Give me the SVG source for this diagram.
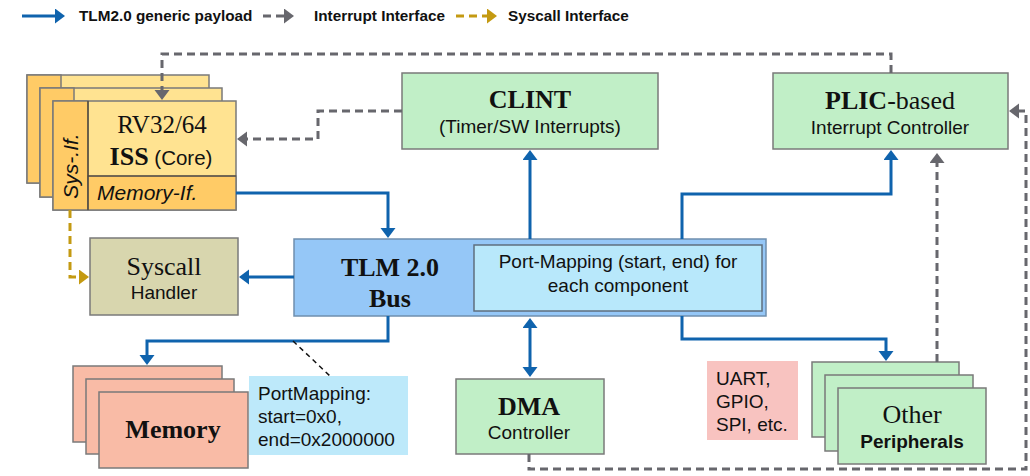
<svg xmlns="http://www.w3.org/2000/svg" width="1030" height="476" viewBox="0 0 1030 476">
<style>
.box{stroke:#7a7a7a;stroke-width:1.5}
.green{fill:#C1EFC7}
.serif{font-family:"Liberation Serif","Times New Roman",serif;fill:#111}
.sans{font-family:"Liberation Sans",Arial,sans-serif;fill:#111}
.b{font-weight:bold}
.blue{fill:none;stroke:#0F63AD;stroke-width:3}
.gray{fill:none;stroke:#67676D;stroke-width:3;stroke-dasharray:8,5}
.gold{fill:none;stroke:#C49A12;stroke-width:3;stroke-dasharray:8,5}
.leg{font-family:"Liberation Sans",Arial,sans-serif;font-weight:bold;font-size:15.3px;fill:#111}
</style>
<defs>
<marker id="ab" markerUnits="userSpaceOnUse" markerWidth="12" markerHeight="16" refX="1" refY="7.5" orient="auto-start-reverse"><path d="M0,0 L10,7.5 L0,15 z" fill="#0F63AD"/></marker>
<marker id="ag" markerUnits="userSpaceOnUse" markerWidth="12" markerHeight="16" refX="1" refY="7.5" orient="auto"><path d="M0,0 L10,7.5 L0,15 z" fill="#67676D"/></marker>
<marker id="ay" markerUnits="userSpaceOnUse" markerWidth="12" markerHeight="16" refX="1" refY="7.5" orient="auto"><path d="M0,0 L10,7.5 L0,15 z" fill="#C49A12"/></marker>
</defs>

<g id="legend">
<path class="blue" d="M22,16 H56" marker-end="url(#ab)"/>
<text class="leg" x="79" y="21">TLM2.0 generic payload</text>
<path class="gray" d="M263,16 H285" marker-end="url(#ag)"/>
<text class="leg" x="314" y="21">Interrupt Interface</text>
<path class="gold" d="M456,16 H488" marker-end="url(#ay)"/>
<text class="leg" x="508" y="21">Syscall Interface</text>
</g>

<g id="core">
<rect x="27" y="75" width="182" height="108" fill="#FFE391" class="box"/>
<rect x="27" y="75" width="34" height="108" fill="#FFCB66" class="box"/>
<rect x="40" y="88" width="182" height="109" fill="#FFE391" class="box"/>
<rect x="40" y="88" width="34" height="109" fill="#FFCB66" class="box"/>
<rect x="53" y="101" width="183" height="109" fill="#FFE391" class="box"/>
<rect x="53" y="101" width="35" height="109" fill="#FFCB66" class="box"/>
<rect x="88" y="176" width="148" height="34" fill="#FFCB66" class="box"/>
<line x1="88" y1="101" x2="88" y2="210" stroke="#4a3f2a" stroke-width="1.2"/>
<line x1="88" y1="176" x2="236" y2="176" stroke="#4a3f2a" stroke-width="1.2"/>
<text class="serif" x="162" y="133" font-size="25" text-anchor="middle">RV32/64</text>
<text x="161" y="165" text-anchor="middle"><tspan class="serif b" font-size="26">ISS</tspan><tspan class="sans" font-size="20.5"> (Core)</tspan></text>
<text class="sans" x="97" y="200" font-size="21" font-style="italic">Memory-If.</text>
<text class="sans" font-size="21" font-style="italic" text-anchor="middle" transform="translate(78,166) rotate(-90)">Sys-.If.</text>
</g>

<g id="clint">
<rect x="402" y="73" width="256" height="76" class="box green"/>
<text class="serif b" x="530" y="108" font-size="26" text-anchor="middle">CLINT</text>
<text class="sans" x="530" y="133" font-size="19" text-anchor="middle">(Timer/SW Interrupts)</text>
</g>

<g id="plic">
<rect x="773" y="73" width="235" height="76" class="box green"/>
<text class="serif" x="890" y="109" font-size="26" text-anchor="middle"><tspan class="b">PLIC</tspan>-based</text>
<text class="sans" x="890" y="134" font-size="19" text-anchor="middle">Interrupt Controller</text>
</g>

<g id="syscall">
<rect x="90" y="238" width="148" height="77" fill="#D8D6AE" class="box"/>
<text class="serif" x="164" y="275" font-size="26" text-anchor="middle">Syscall</text>
<text class="sans" x="164" y="299" font-size="19" text-anchor="middle">Handler</text>
</g>

<g id="bus">
<rect x="294" y="239" width="472" height="77" fill="#95C7F7" stroke="#6f8fae" stroke-width="1.5"/>
<text class="serif b" x="390" y="276" font-size="26" text-anchor="middle">TLM 2.0</text>
<text class="serif b" x="390" y="307" font-size="26" text-anchor="middle">Bus</text>
<g id="portmap">
<rect x="474" y="245" width="288" height="66" fill="#B8E8FB" stroke="#5f6f7f" stroke-width="1.5"/>
<text class="sans" x="618" y="268" font-size="19" text-anchor="middle">Port-Mapping (start, end) for</text>
<text class="sans" x="618" y="292" font-size="19" text-anchor="middle">each component</text>
</g>
</g>

<g id="memory">
<rect x="73" y="366" width="149" height="76" fill="#F9BBA6" class="box"/>
<rect x="86" y="379" width="148" height="75" fill="#F9BBA6" class="box"/>
<rect x="99" y="392" width="149" height="76" fill="#F9BBA6" class="box"/>
<text class="serif b" x="173" y="438" font-size="26" text-anchor="middle">Memory</text>
</g>

<g id="memnote">
<rect x="249" y="376" width="159" height="79" fill="#BDE9FA"/>
<text class="sans" x="258" y="400" font-size="19">PortMapping:</text>
<text class="sans" x="258" y="423" font-size="19">start=0x0,</text>
<text class="sans" x="258" y="446" font-size="19">end=0x2000000</text>
</g>

<g id="dma">
<rect x="456" y="379" width="148" height="75" class="box green"/>
<text class="serif b" x="529" y="415" font-size="26" text-anchor="middle">DMA</text>
<text class="sans" x="529" y="439" font-size="19" text-anchor="middle">Controller</text>
</g>

<g id="uartnote">
<rect x="707" y="361" width="91" height="79" fill="#F8C3C0"/>
<text class="sans" x="716" y="385" font-size="19">UART,</text>
<text class="sans" x="716" y="408" font-size="19">GPIO,</text>
<text class="sans" x="716" y="431" font-size="19">SPI, etc.</text>
</g>

<g id="peripherals">
<rect x="812" y="362" width="147" height="75" class="box green"/>
<rect x="825" y="375" width="148" height="76" class="box green"/>
<rect x="838" y="388" width="148" height="76" class="box green"/>
<text class="serif" x="912" y="423" font-size="26" text-anchor="middle">Other</text>
<text class="sans b" x="912" y="448" font-size="19" text-anchor="middle">Peripherals</text>
</g>

<g id="connectors">
<path class="blue" d="M236,193 H388 V229" marker-end="url(#ab)"/>
<path class="blue" d="M294,277 H248" marker-end="url(#ab)"/>
<path class="blue" d="M530,239 V159" marker-end="url(#ab)"/>
<path class="blue" d="M682,239 V194 H891 V159" marker-end="url(#ab)"/>
<path class="blue" d="M388,316 V341 H147 V356" marker-end="url(#ab)"/>
<path class="blue" d="M530,327 V368" marker-start="url(#ab)" marker-end="url(#ab)"/>
<path class="blue" d="M682,316 V339 H886 V352" marker-end="url(#ab)"/>
<path class="gray" d="M891,73 V54 H162 V91" marker-end="url(#ag)"/>
<path class="gray" d="M402,111 H318 V139 H246" marker-end="url(#ag)"/>
<path class="gray" d="M937,362 V162" marker-end="url(#ag)"/>
<path class="gray" d="M529,454 V469 H1026 V111 H1018" marker-end="url(#ag)"/>
<path class="gold" d="M70,210 V277 H80" marker-end="url(#ay)"/>
<path d="M293,341 L330,376" fill="none" stroke="#111" stroke-width="1.5" stroke-dasharray="5,4"/>
</g>
</svg>
